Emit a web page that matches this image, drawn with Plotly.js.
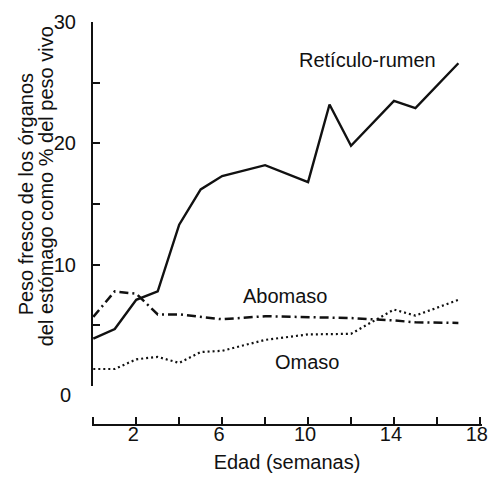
<!DOCTYPE html>
<html>
<head>
<meta charset="utf-8">
<script src="https://cdn.plot.ly/plotly-3.0.1.min.js"></script>
<style>html,body{margin:0;padding:0;background:#fff;}#chart{width:489px;height:479px;}</style>
</head>
<body>
<div id="chart"></div>
<script>
// Data (weeks of age, % of live weight)
const weeksRumen = [0, 1, 2, 3, 4, 5, 6, 8, 10, 11, 12, 14, 15, 17];
const rumen = [3.9, 4.7, 7.1, 7.8, 13.3, 16.2, 17.3, 18.2, 16.8, 23.2, 19.8, 23.5, 22.9, 26.6];
const weeksAbomaso = [0, 1, 2, 3, 4, 5, 6, 8, 10, 12, 14, 15, 17];
const abomaso = [5.7, 7.8, 7.6, 5.9, 5.9, 5.7, 5.5, 5.75, 5.7, 5.6, 5.4, 5.25, 5.2];
const weeksOmaso = [0, 1, 2, 3, 4, 5, 6, 8, 10, 11, 12, 14, 15, 17];
const omaso = [1.4, 1.4, 2.2, 2.4, 1.9, 2.8, 2.9, 3.8, 4.25, 4.3, 4.3, 6.3, 5.8, 7.1];
const xTickVals = [0, 2, 4, 6, 8, 10, 12, 14, 16, 18];
const xLabelVals = [2, 6, 10, 14, 18];
const xLabelText = ['2', '6', '10', '14', '18'];
const yTickStep = 5;
const yLabelAlias = {'0': '', '5': '', '10': '10', '15': '', '20': '20', '25': '', '30': '30'};
const seriesLabels = ['Retículo-rumen', 'Abomaso', 'Omaso'];
const xTitle = 'Edad (semanas)';
const yTitleLines = ['Peso fresco de los órganos', 'del estómago como % del peso vivo'];

const FONT = 'Liberation Sans, Arial, Helvetica, sans-serif';
const INK = '#111';
const FS = 20;
const NB = '\u00a0\u00a0';

// pixel geometry
const L = 91.71, R = 6.85, T = 22, B = 479 - 425;
const PW = 489 - L - R, PH = 479 - T - B;
const xRange = [-0.06, 18.1];
const yRange = [0, 30];

const traces = [
  {x: weeksRumen, y: rumen, mode: 'lines', line: {color: INK, width: 2.4}},
  {x: weeksAbomaso, y: abomaso, mode: 'lines', line: {color: INK, width: 2.5, dash: '9px,4px,2px,4px'}},
  {x: weeksOmaso, y: omaso, mode: 'lines', line: {color: INK, width: 2.2, dash: '2px,3px'}},
  // empty trace that only registers the x label axis (x2)
  {x: [], y: [], xaxis: 'x2', yaxis: 'y', mode: 'lines', hoverinfo: 'skip'}
];

const px2x = p => (p - L) / PW;
const px2y = p => (479 - B - p) / PH;
const yDomain = [px2y(386), 1];

const aliasWithPad = {};
Object.keys(yLabelAlias).forEach(k => { aliasWithPad[k] = yLabelAlias[k] ? yLabelAlias[k] + NB : ''; });

const layout = {
  width: 489, height: 479,
  margin: {l: L, r: R, t: T, b: B},
  paper_bgcolor: '#fff', plot_bgcolor: '#fff',
  showlegend: false,
  font: {family: FONT, size: FS, color: INK},
  xaxis: {
    range: xRange, anchor: 'free', position: 0,
    showgrid: false, zeroline: false,
    showline: true, linecolor: INK, linewidth: 2,
    ticks: 'inside', ticklen: 7, tickwidth: 2, tickcolor: INK,
    tickvals: xTickVals, showticklabels: false
  },
  xaxis2: {
    range: xRange, overlaying: 'x', anchor: 'free', position: px2y(420),
    showgrid: false, zeroline: false, showline: false, ticks: '',
    tickvals: xLabelVals, ticktext: xLabelText, ticklabeloverflow: 'allow', ticklabelshift: -3,
    tickfont: {family: FONT, size: FS, color: INK},
    title: {text: xTitle, standoff: 10, font: {family: FONT, size: FS, color: INK}}
  },
  yaxis: {
    range: yRange, domain: yDomain, anchor: 'free', position: 0,
    showgrid: false, zeroline: false,
    showline: true, linecolor: INK, linewidth: 2,
    ticks: 'inside', ticklen: 7, tickwidth: 2, tickcolor: INK,
    tickmode: 'linear', tick0: 0, dtick: yTickStep,
    labelalias: aliasWithPad
  },
  annotations: [
    {xref: 'x', yref: 'y', x: 12.77, y: 26.9, text: seriesLabels[0], showarrow: false},
    {xref: 'x', yref: 'y', x: 8.95, y: 7.42, text: seriesLabels[1], showarrow: false},
    {xref: 'x', yref: 'y', x: 9.93, y: 1.98, text: seriesLabels[2], showarrow: false},
    {xref: 'paper', yref: 'paper', x: px2x(65), y: px2y(395), text: '0', showarrow: false, xanchor: 'center', yanchor: 'middle'},
    {xref: 'paper', yref: 'paper', x: px2x(26), y: px2y(194), text: yTitleLines[0], textangle: -90, showarrow: false, xanchor: 'center', yanchor: 'middle'},
    {xref: 'paper', yref: 'paper', x: px2x(46), y: px2y(186), text: yTitleLines[1], textangle: -90, showarrow: false, xanchor: 'center', yanchor: 'middle'}
  ]
};

Plotly.newPlot('chart', traces, layout, {staticPlot: true, displayModeBar: false});
</script>
</body>
</html>
